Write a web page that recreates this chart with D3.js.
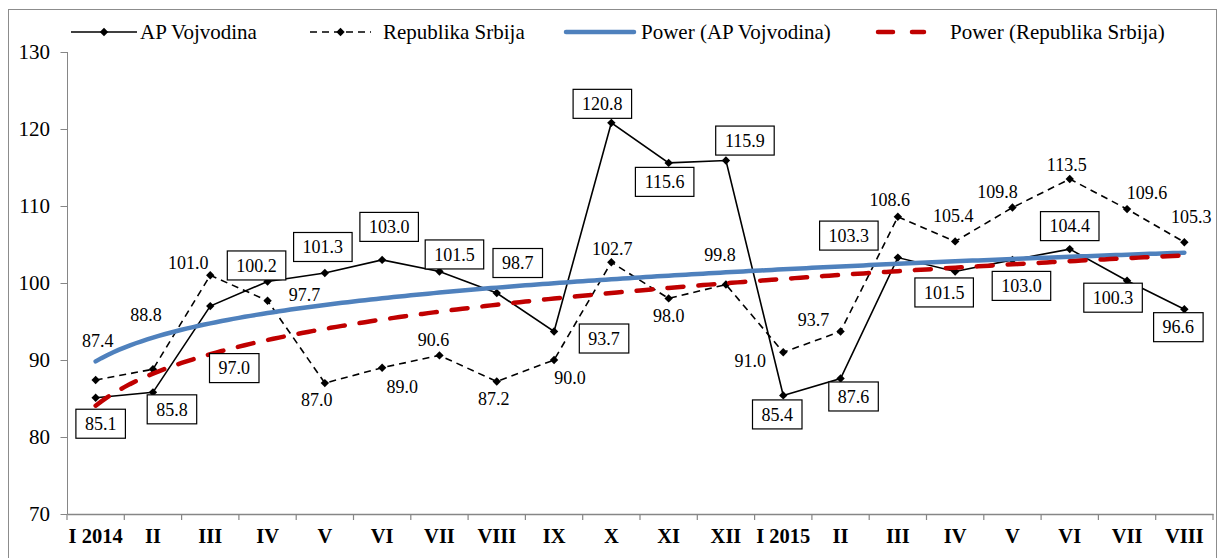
<!DOCTYPE html>
<html>
<head>
<meta charset="utf-8">
<script src="https://cdn.jsdelivr.net/npm/d3@7"></script>
<style>
  body { margin: 0; background: #fff; }
  svg text { font-family: "Liberation Serif", "Times New Roman", Times, "DejaVu Serif", serif !important; }
</style>
</head>
<body>
<div class="chart"></div>
<script>
// podaci sa grafikona
var months = ["I 2014", "II", "III", "IV", "V", "VI", "VII", "VIII", "IX", "X", "XI", "XII",
              "I 2015", "II", "III", "IV", "V", "VI", "VII", "VIII"];
var apVojvodina = [85.1, 85.8, 97.0, 100.2, 101.3, 103.0, 101.5, 98.7, 93.7, 120.8, 115.6, 115.9,
                   85.4, 87.6, 103.3, 101.5, 103.0, 104.4, 100.3, 96.6];
var republikaSrbija = [87.4, 88.8, 101.0, 97.7, 87.0, 89.0, 90.6, 87.2, 90.0, 102.7, 98.0, 99.8,
                       91.0, 93.7, 108.6, 105.4, 109.8, 113.5, 109.6, 105.3];
var yTicks = [70, 80, 90, 100, 110, 120, 130];
var seriesNames = ["AP Vojvodina", "Republika Srbija", "Power (AP Vojvodina)", "Power (Republika Srbija)"];

// pomeraji oznaka (centar oznake u odnosu na tacku), rucno kao u Excelu
var apLabelOffset = [[5, 26], [19, 17], [24, 62], [-11, -16], [-2, -26], [7, -33], [15, -17], [21, -30],
                     [50, 7], [-9, -19], [-4, 19], [19, -20], [-6, 19], [13, 18], [-49, -22], [-11, 21],
                     [9, 26], [0, -23], [-14, 17], [-6, 18]];
var rsLabelOffset = [[2, -39], [-7, -55], [-22, -13], [37, -6], [-8, 17], [20, 19], [-6, -16], [-3, 17],
                     [16, 18], [1, -14], [0, 17], [-6, -30], [-33, 8], [-27, -12], [-8, -17], [-2, -26],
                     [-15, -16], [-3, -14], [20, -16], [7, -25]];

var FONT = "'Liberation Serif', 'Times New Roman', Times, 'DejaVu Serif', serif";
var W = 1219, H = 558;
var margin = {top: 52, right: 6, bottom: 44, left: 67};
var w = W - margin.left - margin.right;
var h = H - margin.top - margin.bottom;

var svg = d3.select(".chart").append("svg")
    .attr("width", W)
    .attr("height", H)
    .attr("font-family", FONT);

// okvir grafikona
svg.append("rect")
    .attr("x", 8.5).attr("y", 9.5)
    .attr("width", 1208).attr("height", 600)
    .attr("fill", "none").attr("stroke", "#8c8c8c").attr("stroke-width", 1);

var mainG = svg.append("g")
    .attr("transform", "translate(" + margin.left + "," + margin.top + ")");

var x = d3.scaleBand().domain(d3.range(months.length)).range([0, w]);
var y = d3.scaleLinear().domain([70, 130]).range([h, 0]);
var cx = function(i) { return x(i) + x.bandwidth() / 2; };

// osa y
var yAxis = d3.axisLeft(y).tickValues(yTicks).tickSize(7).tickPadding(10);
var gy = mainG.append("g").attr("class", "y axis").call(yAxis).attr("font-family", FONT);
gy.select(".domain").attr("stroke", "#868686").attr("d", "M0.5," + y(130) + "V" + h);
gy.selectAll(".tick line").attr("stroke", "#868686").attr("transform", "translate(0.5,0)");
gy.selectAll("text").attr("font-size", 21).attr("fill", "#000");

// osa x
var xAxis = d3.axisBottom(x).tickSize(0).tickPadding(14).tickFormat(function(i) { return months[i]; });
var gx = mainG.append("g").attr("class", "x axis")
    .attr("transform", "translate(0," + h + ")").call(xAxis).attr("font-family", FONT);
gx.select(".domain").attr("stroke", "#868686").attr("stroke-width", 1.5);
gx.selectAll("text").attr("font-size", 20.5).attr("font-weight", "bold").attr("fill", "#000");
gx.selectAll(".edge").data(d3.range(months.length + 1)).enter()
    .append("line")
    .attr("x1", function(i) { return i * x.step(); })
    .attr("x2", function(i) { return i * x.step(); })
    .attr("y1", 0).attr("y2", 6)
    .attr("stroke", "#868686").attr("stroke-width", 1.2);

// linije serija
var line = d3.line()
    .x(function(d, i) { return cx(i); })
    .y(function(d) { return y(d); });

mainG.append("path").datum(republikaSrbija)
    .attr("d", line).attr("fill", "none")
    .attr("stroke", "#000").attr("stroke-width", 1.6).attr("stroke-dasharray", "7,5");
mainG.append("path").datum(apVojvodina)
    .attr("d", line).attr("fill", "none")
    .attr("stroke", "#000").attr("stroke-width", 1.6);

var diamond = "M0,-4.2L4.2,0L0,4.2L-4.2,0Z";
[apVojvodina, republikaSrbija].forEach(function(s) {
  mainG.selectAll(null).data(s).enter()
    .append("path")
    .attr("d", diamond)
    .attr("transform", function(d, i) { return "translate(" + cx(i) + "," + y(d) + ")"; })
    .attr("fill", "#000");
});

// power trend (Excel: ln y = ln a + b ln x, x = 1..n)
function powerFit(vals) {
  var lx = vals.map(function(d, i) { return Math.log(i + 1); });
  var ly = vals.map(function(d) { return Math.log(d); });
  var mx = d3.mean(lx), my = d3.mean(ly);
  var b = d3.sum(lx, function(v, i) { return (v - mx) * (ly[i] - my); }) /
          d3.sum(lx, function(v) { return (v - mx) * (v - mx); });
  var a = Math.exp(my - b * mx);
  return d3.range(1, vals.length + 0.001, 0.1).map(function(t) { return [t, a * Math.pow(t, b)]; });
}
var trendLine = d3.line()
    .x(function(d) { return cx(0) + (d[0] - 1) * x.step(); })
    .y(function(d) { return y(d[1]); });

mainG.append("path").datum(powerFit(apVojvodina))
    .attr("d", trendLine).attr("fill", "none")
    .attr("stroke", "#4f81bd").attr("stroke-width", 4.5).attr("stroke-linecap", "round");
mainG.append("path").datum(powerFit(republikaSrbija))
    .attr("d", trendLine).attr("fill", "none")
    .attr("stroke", "#c00000").attr("stroke-width", 4.5)
    .attr("stroke-dasharray", "16,15").attr("stroke-linecap", "round");

// oznake vrednosti
mainG.selectAll(".rslab").data(republikaSrbija).enter()
    .append("text")
    .attr("class", "rslab")
    .attr("x", function(d, i) { return cx(i) + rsLabelOffset[i][0]; })
    .attr("y", function(d, i) { return y(d) + rsLabelOffset[i][1]; })
    .attr("dy", "0.35em")
    .attr("text-anchor", "middle")
    .attr("font-size", 18)
    .text(function(d) { return d.toFixed(1); });

var apLab = mainG.selectAll(".aplab").data(apVojvodina).enter()
    .append("g")
    .attr("class", "aplab")
    .attr("transform", function(d, i) {
      return "translate(" + (cx(i) + apLabelOffset[i][0]) + "," + (y(d) + apLabelOffset[i][1]) + ")";
    });
apLab.append("rect")
    .attr("x", function(d) { return -(d.toFixed(1).length * 9 - 4.5) / 2 - 9; })
    .attr("y", -14.5)
    .attr("width", function(d) { return d.toFixed(1).length * 9 - 4.5 + 18; })
    .attr("height", 29)
    .attr("fill", "#fff").attr("stroke", "#000").attr("stroke-width", 1.2);
apLab.append("text")
    .attr("dy", "0.35em")
    .attr("text-anchor", "middle")
    .attr("font-size", 18)
    .text(function(d) { return d.toFixed(1); });

// legenda
var legend = svg.append("g").attr("class", "legend");
var legY = 32;
var legItems = [
  {x1: 71, x2: 137, text: 140},
  {x1: 310, x2: 371, text: 383},
  {x1: 566, x2: 634, text: 641},
  {x1: 876, x2: 926, text: 950}
];
legend.append("line").attr("x1", legItems[0].x1).attr("x2", legItems[0].x2)
    .attr("y1", legY).attr("y2", legY).attr("stroke", "#000").attr("stroke-width", 1.6);
legend.append("path").attr("d", diamond)
    .attr("transform", "translate(" + (legItems[0].x1 + legItems[0].x2) / 2 + "," + legY + ")");
legend.append("line").attr("x1", legItems[1].x1).attr("x2", legItems[1].x2)
    .attr("y1", legY).attr("y2", legY).attr("stroke", "#000").attr("stroke-width", 1.6)
    .attr("stroke-dasharray", "7,5");
legend.append("path").attr("d", diamond)
    .attr("transform", "translate(" + (legItems[1].x1 + legItems[1].x2) / 2 + "," + legY + ")");
legend.append("line").attr("x1", legItems[2].x1).attr("x2", legItems[2].x2)
    .attr("y1", legY).attr("y2", legY).attr("stroke", "#4f81bd").attr("stroke-width", 4.5)
    .attr("stroke-linecap", "round");
legend.append("line").attr("x1", legItems[3].x1 + 2).attr("x2", legItems[3].x2 - 2)
    .attr("y1", legY).attr("y2", legY).attr("stroke", "#c00000").attr("stroke-width", 4.5)
    .attr("stroke-dasharray", "15,19").attr("stroke-linecap", "round");
legend.selectAll(".legtext").data(seriesNames).enter()
    .append("text")
    .attr("class", "legtext")
    .attr("x", function(d, i) { return legItems[i].text; })
    .attr("y", legY).attr("dy", "0.35em")
    .attr("font-size", 21)
    .text(function(d) { return d; });
</script>
</body>
</html>
